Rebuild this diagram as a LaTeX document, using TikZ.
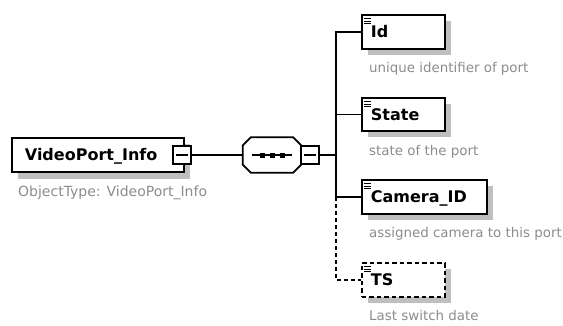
\documentclass[tikz,border=0pt]{standalone}
\usepackage{fontspec}
\setmainfont{DejaVu Sans}
\usetikzlibrary{shadows}

\tikzset{
  elem/.style={draw, line width=1.8pt, fill=white, anchor=west, inner sep=0pt,
    inner xsep=9pt, minimum height=34pt, text height=11.5pt, text depth=0pt,
    align=left, font=\bfseries\fontsize{16}{19}\selectfont,
    drop shadow={shadow xshift=6pt, shadow yshift=-6pt, fill=black!25, opacity=1},
    path picture={
      \foreach \k in {3.5,6,8.5}
        \draw[solid, line width=0.9pt] ([shift={(2.5pt,-\k pt)}]path picture bounding box.north west) -- ++(7pt,0);
    }},
  optelem/.style={elem, dash pattern=on 4.5pt off 3pt},
  minusbox/.style={draw, line width=1.8pt, fill=white, inner sep=0pt, minimum width=18pt, minimum height=18pt,
    path picture={
      \draw[line width=1.2pt] ([xshift=3pt]path picture bounding box.west) -- ([xshift=-3pt]path picture bounding box.east);
    }},
  note/.style={anchor=base west, inner sep=0pt, text=black!45, font=\fontsize{13.4}{16}\selectfont},
  conn/.style={line width=1.2pt}
}

\begin{document}
\begin{tikzpicture}[x=1pt,y=-1pt]
\useasboundingbox (0,0) rectangle (563,325);

% root element
\node[elem, inner xsep=13pt, text width=146pt, drop shadow={shadow xshift=6pt, shadow yshift=-7pt, fill=black!25, opacity=1},
  path picture={}] (root) at (11,155) {VideoPort\_Info};
\node[minusbox] (rootminus) at (182,155) {};
\node[note, font=\fontsize{14}{16}\selectfont] (roottype) at (18,196) {ObjectType: VideoPort\_Info};

% sequence compositor
\node[inner sep=0pt, minimum width=58pt, minimum height=35pt] (seq) at (272,155) {};
\fill[black!25, xshift=7pt, yshift=-6pt] ([xshift=8pt]seq.north west) -- ([xshift=-8pt]seq.north east)
  -- ([yshift=-8pt]seq.north east) -- ([yshift=8pt]seq.south east) -- ([xshift=-8pt]seq.south east)
  -- ([xshift=8pt]seq.south west) -- ([yshift=8pt]seq.south west) -- ([yshift=-8pt]seq.north west) -- cycle;
\draw[line width=1.8pt, fill=white] ([xshift=8pt]seq.north west) -- ([xshift=-8pt]seq.north east)
  -- ([yshift=-8pt]seq.north east) -- ([yshift=8pt]seq.south east) -- ([xshift=-8pt]seq.south east)
  -- ([xshift=8pt]seq.south west) -- ([yshift=8pt]seq.south west) -- ([yshift=-8pt]seq.north west) -- cycle;
\draw[conn] ([xshift=9pt]seq.west) -- ([xshift=-9pt]seq.east);
\foreach \dx in {-10,0,10}
  \fill ([xshift=\dx pt]seq.center) +(-2.5,-2.5) rectangle +(2.5,2.5);
\node[minusbox] (seqminus) at (310,155) {};
\coordinate (fork) at (336,155);

% child elements
\node[elem, text width=65pt] (id) at (361,32) {Id};
\node[elem, text width=65pt, minimum height=33pt] (state) at (361,114.5) {State};
\node[elem, text width=107pt] (cam) at (361,197) {Camera\_ID};
\node[optelem, text width=65pt] (ts) at (361,280) {TS};

\node[note] (iddoc) at (369,72) {unique identifier of port};
\node[note] (statedoc) at (369,155) {state of the port};
\node[note] (camdoc) at (369,237) {assigned camera to this port};
\node[note] (tsdoc) at (369,320) {Last switch date};

% connectors
\draw[conn] (rootminus) -- (seq);
\draw[conn] (seqminus) -- (fork);
\draw[conn] (fork) |- (id);
\draw[conn] (fork) |- (state);
\draw[conn] (fork) |- (cam);
\draw[conn, dash pattern=on 4pt off 3pt] (fork |- cam.west) |- (ts);
\end{tikzpicture}
\end{document}
